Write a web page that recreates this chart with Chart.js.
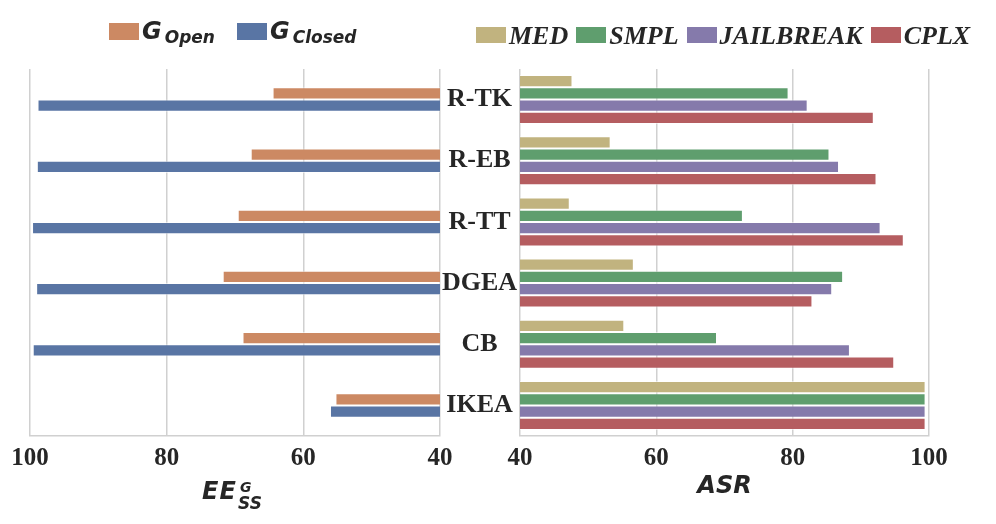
<!DOCTYPE html>
<html>
<head>
<meta charset="utf-8">
<script src="https://cdn.jsdelivr.net/npm/chart.js@4.4.1/dist/chart.umd.min.js"></script>
<style>
  body { margin: 0; width: 996px; height: 524px; position: relative; background: #fff; overflow: hidden; }
  canvas { position: absolute; top: 0; }
  .legend { position: absolute; white-space: nowrap; color: #262626; line-height: 30px; }
  .legend .box { display: inline-block; width: 30px; height: 17px; }
  #legendLeft { left: 109px; top: 17px; font: italic bold 24px "DejaVu Sans"; }
  #legendLeft .box { vertical-align: -1px; margin-right: 3px; }
  #legendLeft sub { font-size: 17px; line-height: 1; vertical-align: -4px; margin-left: 3px; margin-right: 22px; }
  #legendRight { left: 476px; top: 21px; font: italic bold 26px "Liberation Serif"; }
  #legendRight .box { height: 16px; vertical-align: 1px; margin-right: 3px; }
  #legendRight .txt { margin-right: 8px; }
  .ee { position: absolute; font-family: "DejaVu Sans"; font-weight: bold; font-style: italic; line-height: 1; color: #262626; }
</style>
</head>
<body>
<canvas id="leftChart" width="520" height="524" style="left:0"></canvas>
<canvas id="rightChart" width="526" height="524" style="left:470px"></canvas>
<div id="legendLeft" class="legend"></div>
<div id="legendRight" class="legend"></div>
<span class="ee" style="left:202px;top:479px;font-size:24px;letter-spacing:1px">EE</span>
<span class="ee" style="left:240px;top:480px;font-size:14px">G</span>
<span class="ee" style="left:238px;top:495px;font-size:17px">SS</span>
<script>
// Data
const categories = ["R-TK", "R-EB", "R-TT", "DGEA", "CB", "IKEA"];
const gOpen = [64.5, 67.7, 69.6, 71.8, 68.9, 55.3];
const gClosed = [98.9, 99.0, 99.7, 99.1, 99.6, 56.1];
const med = [47.7, 53.3, 47.3, 56.7, 55.3, 99.5];
const smpl = [79.4, 85.4, 72.7, 87.4, 68.9, 99.5];
const jailbreak = [82.2, 86.8, 92.9, 85.8, 88.4, 99.5];
const cplx = [91.9, 92.3, 96.3, 82.9, 94.9, 99.5];
const xMin = 40, xMax = 100, xStep = 20;

const leftNames = [["G", "Open"], ["G", "Closed"]];
const leftColors = ["#cc8963", "#5975a4"];
const rightNames = ["MED", "SMPL", "JAILBREAK", "CPLX"];
const rightColors = ["#c1b37f", "#5f9e6e", "#857aab", "#b55d60"];

const textColor = "#262626";
const gridColor = "#d0d0d0";
const tickFont = { family: "Liberation Serif", size: 25, weight: "bold" };

// Legends (html, so the subscripts stay real text)
document.getElementById("legendLeft").innerHTML = leftNames.map((n, i) =>
  `<span class="box" style="background:${leftColors[i]}"></span>${n[0]}<sub>${n[1]}</sub>`).join("");
document.getElementById("legendRight").innerHTML = rightNames.map((n, i) =>
  `<span class="box" style="background:${rightColors[i]}"></span><span class="txt">${n}</span>`).join("");

function xScale(reverse, withTitle) {
  return {
    min: xMin, max: xMax, reverse: reverse,
    ticks: { stepSize: xStep, font: tickFont, color: textColor, padding: 8 },
    grid: { color: gridColor, lineWidth: 1.5, drawTicks: false },
    border: { display: true, color: gridColor, width: 1.5 },
    title: withTitle ? {
      display: true, text: "ASR", color: textColor,
      font: { family: "DejaVu Sans", size: 24, weight: "bold", style: "italic" },
      padding: { top: 0, bottom: 23 }
    } : { display: false },
    afterFit: s => { s.height = 88; }
  };
}

function makeSets(names, colors, values) {
  return values.map((v, i) => ({
    label: names[i],
    data: v,
    backgroundColor: colors[i],
    borderColor: "rgba(255,255,255,0.55)",
    borderWidth: 1,
    borderSkipped: false,
    barPercentage: 1
  }));
}

// Left: EE, reversed axis, category names on its right side
new Chart(document.getElementById("leftChart"), {
  type: "bar",
  data: {
    labels: categories,
    datasets: makeSets(leftNames.map(n => n.join("_")), leftColors, [gOpen, gClosed])
      .map(d => ({ ...d, categoryPercentage: 0.4 }))
  },
  options: {
    indexAxis: "y",
    responsive: false,
    animation: false,
    layout: { padding: { left: 30, top: 69, right: 0, bottom: 0 } },
    plugins: { legend: { display: false }, tooltip: { enabled: false } },
    scales: {
      x: xScale(true, false),
      y: {
        position: "right",
        grid: { display: false, drawTicks: false },
        border: { display: false },
        ticks: { font: { family: "Liberation Serif", size: 26, weight: "bold" }, color: textColor, crossAlign: "center", padding: 2 },
        afterFit: s => { s.width = 80; }
      }
    }
  }
});

// Right: ASR
new Chart(document.getElementById("rightChart"), {
  type: "bar",
  data: {
    labels: categories,
    datasets: makeSets(rightNames, rightColors, [med, smpl, jailbreak, cplx])
      .map(d => ({ ...d, categoryPercentage: 0.8 }))
  },
  options: {
    indexAxis: "y",
    responsive: false,
    animation: false,
    layout: { padding: { left: 50, top: 69, right: 67, bottom: 0 } },
    plugins: { legend: { display: false }, tooltip: { enabled: false } },
    scales: {
      x: xScale(false, true),
      y: { display: false }
    }
  }
});
</script>
</body>
</html>
